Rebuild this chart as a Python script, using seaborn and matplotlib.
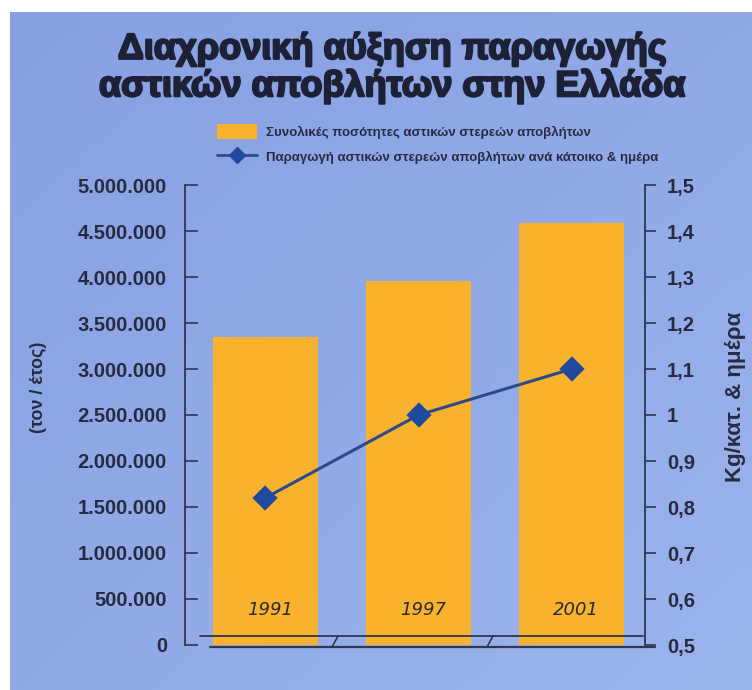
import matplotlib
matplotlib.use("Agg")
import matplotlib.pyplot as plt
import matplotlib.patheffects as pe
import seaborn as sns
import pandas as pd
import numpy as np
from matplotlib.patches import Rectangle
from matplotlib.lines import Line2D

years = ["1991", "1997", "2001"]
total_tonnes = [3350000, 3960000, 4590000]
kg_per_capita_day = [0.82, 1.0, 1.1]
left_ticks = [0, 500000, 1000000, 1500000, 2000000, 2500000, 3000000, 3500000, 4000000, 4500000, 5000000]
left_tick_labels = ["0", "500.000", "1.000.000", "1.500.000", "2.000.000", "2.500.000",
                    "3.000.000", "3.500.000", "4.000.000", "4.500.000", "5.000.000"]
right_ticks = [0.5, 0.6, 0.7, 0.8, 0.9, 1.0, 1.1, 1.2, 1.3, 1.4, 1.5]
right_tick_labels = ["0,5", "0,6", "0,7", "0,8", "0,9", "1", "1,1", "1,2", "1,3", "1,4", "1,5"]
title = "Διαχρονική αύξηση παραγωγής\nαστικών αποβλήτων στην Ελλάδα"
legend_bar = "Συνολικές ποσότητες αστικών στερεών αποβλήτων"
legend_line = "Παραγωγή αστικών στερεών αποβλήτων ανά κάτοικο & ημέρα"
left_label = "(τον / έτος)"
right_label = "Kg/κατ. & ημέρα"

df = pd.DataFrame({"year": years, "total": total_tonnes, "per_capita": kg_per_capita_day})

sns.set_theme(style="white")
plt.rcParams["font.family"] = ["Liberation Sans", "DejaVu Sans"]

BAR = "#f8b22e"
LINE = "#2c4a8c"
MARK = "#1f4a9e"
TXT = "#262b40"

fig = plt.figure(figsize=(7.52, 6.90), dpi=100, facecolor="white")
# subtle blue gradient background
bg_ax = fig.add_axes([10 / 752, 0, 742 / 752, 1 - 12 / 690], zorder=-10)
gx = np.linspace(0, 1, 200)
gy = np.linspace(0, 1, 200)
GX, GY = np.meshgrid(gx, gy)
shade = 0.5 * GX + 0.5 * GY
c0 = np.array([0x86, 0xa0, 0xe2]) / 255
c1 = np.array([0x9c, 0xb4, 0xec]) / 255
img = c0[None, None, :] * (1 - shade[..., None]) + c1[None, None, :] * shade[..., None]
bg_ax.imshow(img, aspect="auto", extent=[0, 1, 0, 1], origin="upper")
bg_ax.set_axis_off()

ax = fig.add_axes([185 / 752, 45 / 690, 460 / 752, 460 / 690])
ax.set_facecolor("none")
sns.barplot(data=df, x="year", y="total", color=BAR, saturation=1, width=0.684,
            ax=ax, label=legend_bar, zorder=2, edgecolor="none", linewidth=0)
ax.set_xlim(-0.526, 2.48)
ax.set_ylim(0, 5000000)
ax.set_yticks(left_ticks)
ax.set_yticklabels(left_tick_labels)
ax.set_xticks([])
ax.set_xlabel("")
ax.set_ylabel(left_label, fontsize=13, color=TXT, labelpad=0, fontweight="bold")
ax.yaxis.set_label_coords(-0.30, 0.56)
for side in ["top", "right", "bottom"]:
    ax.spines[side].set_visible(False)
ax.spines["left"].set_color("#2e3650")
ax.spines["left"].set_linewidth(1.3)
ax.tick_params(axis="y", direction="in", length=9, width=1.2, color="#2e3650",
               pad=13, labelsize=14.5, labelcolor=TXT, left=True)
for t in ax.get_yticklabels():
    t.set_fontweight("bold")

# year labels inside bars
for i, lab in enumerate(years):
    ax.text(i + 0.03, 380000, lab, ha="center", va="center", fontsize=13,
            style="italic", color="#2a2a30", family="DejaVu Sans", fontweight="light", zorder=5)

ax2 = ax.twinx()
sns.pointplot(data=df, x="year", y="per_capita", ax=ax2, color=LINE, marker="D",
              markersize=11, linewidth=2.2, errorbar=None, label=legend_line,
              markerfacecolor=MARK, markeredgecolor=MARK)
ax2.set_xlim(-0.526, 2.48)
ax2.set_ylim(0.5, 1.5)
ax2.set_yticks(right_ticks)
ax2.set_yticklabels(right_tick_labels)
ax2.set_xlabel("")
ax2.set_ylabel(right_label, fontsize=16, color=TXT, rotation=90, labelpad=0,
               fontweight="bold")
ax2.yaxis.set_label_coords(1.175, 0.54)
for side in ["top", "left", "bottom"]:
    ax2.spines[side].set_visible(False)
ax2.spines["right"].set_color("#2e3650")
ax2.spines["right"].set_linewidth(1.3)
ax2.tick_params(axis="y", direction="out", length=8, width=1.2, color="#2e3650",
                pad=8, labelsize=14.5, labelcolor=TXT, right=True)
for t in ax2.get_yticklabels():
    t.set_fontweight("bold")

# floor decoration (two lines with break marks)
tr = ax.transAxes
y_up = (645 - 636) / 460
y_lo = (645 - 647) / 460
ax.add_line(Line2D([(200 - 185) / 460, (643 - 185) / 460], [y_up, y_up], transform=tr,
                   color="#2e3650", lw=1.3, clip_on=False, zorder=4))
ax.add_line(Line2D([(210 - 185) / 460, (655 - 185) / 460], [y_lo, y_lo], transform=tr,
                   color="#2e3650", lw=1.6, clip_on=False, zorder=4))
for px in [335, 490]:
    ax.add_line(Line2D([(px - 185 - 3) / 460, (px - 185 + 3) / 460], [y_lo, y_up], transform=tr,
                       color="#2e3650", lw=1.2, clip_on=False, zorder=4))

# title
fig.text(392 / 752, 1 - 68 / 690, title, ha="center", va="center", fontsize=26,
         fontweight="bold", color="#1c2135", linespacing=1.05,
         path_effects=[pe.withStroke(linewidth=1.6, foreground="#1c2135")])

# legend
leg = fig.legend([Rectangle((0, 0), 1, 1, facecolor=BAR, edgecolor="none"),
                  Line2D([0], [0], color=LINE, lw=2, marker="D", markersize=8,
                         markerfacecolor=MARK, markeredgecolor=MARK)],
                 [legend_bar, legend_line], loc="upper left",
                 bbox_to_anchor=(212 / 752, 1 - 119 / 690), frameon=False,
                 fontsize=9.5, handlelength=3.0, handleheight=1.3, labelspacing=0.8,
                 handletextpad=0.7, borderaxespad=0)
for t in leg.get_texts():
    t.set_color(TXT)
    t.set_fontweight("bold")
if ax.get_legend() is not None:
    ax.get_legend().remove()
if ax2.get_legend() is not None:
    ax2.get_legend().remove()

fig.savefig("out.png", dpi=100, facecolor=fig.get_facecolor())
